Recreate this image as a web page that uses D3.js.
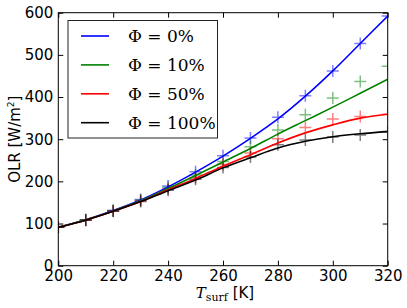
<!DOCTYPE html>
<html>
<head>
<meta charset="utf-8">
<script src="https://cdn.jsdelivr.net/npm/d3@7"></script>
<style>
  body { margin: 0; background: #fff; }
  svg { display: block; }
  .axis text { font-family: "DejaVu Sans", sans-serif; font-size: 15px; fill: #000; }
  .axis path { stroke: none; }
  .axis line { stroke: #000; stroke-width: 1; }
</style>
</head>
<body>
<div id="chart"></div>
<script>
var chart_width  = 407;
var chart_height = 308;
var margin = {left: 58.3, right: 19.3, top: 12.7, bottom: 42.3};

// surface temperature grid [K]
var tsurf = [200, 210, 220, 230, 240, 250, 260, 270, 280, 290, 300, 310, 320];

// fitted curves (lines)
var fit0   = [91, 109, 131, 156, 187, 222, 260, 302, 348, 402, 462, 527, 592];
var fit10  = [91, 109, 130, 154, 183, 214, 246, 278, 312, 344, 376, 409, 442];
var fit50  = [91, 108, 129, 152, 180, 207, 236, 263, 291, 315, 334, 350, 359];
var fit100 = [91, 108, 129, 152, 178, 203, 232, 256, 279, 295, 306, 313, 318];

// model points (markers)
var pts0   = [91, 109, 131, 157, 189, 223, 261, 303, 352, 403, 462, 527, 592];
var pts10  = [91, 109, 131, 156, 186, 215, 247, 282, 322, 358, 398, 437, 473];
var pts50  = [91, 108, 130, 154, 182, 209, 240, 267, 301, 328, 348, 354, 359];
var pts100 = [91, 108, 129, 152, 179, 205, 233, 258, 287, 298, 305, 310, 318];

var labels = ["0%", "10%", "50%", "100%"];
var colors = ["#0000ff", "#008000", "#ff0000", "#000000"];

var xTicks = [200, 220, 240, 260, 280, 300, 320];
var yTicks = [0, 100, 200, 300, 400, 500, 600];

var series = [
  {label: labels[0], color: colors[0], fit: fit0,   pts: pts0},
  {label: labels[1], color: colors[1], fit: fit10,  pts: pts10},
  {label: labels[2], color: colors[2], fit: fit50,  pts: pts50},
  {label: labels[3], color: colors[3], fit: fit100, pts: pts100}
];

var x = d3.scaleLinear().domain([200, 320]).range([margin.left, chart_width - margin.right]);
var y = d3.scaleLinear().domain([0, 600]).range([chart_height - margin.bottom, margin.top]);

var svg = d3.select("#chart").append("svg")
  .attr("width", chart_width)
  .attr("height", chart_height);

svg.append("defs").append("clipPath").attr("id", "clip")
  .append("rect")
  .attr("x", x(200)).attr("y", y(600))
  .attr("width", x(320) - x(200)).attr("height", y(0) - y(600));

var plot = svg.append("g").attr("clip-path", "url(#clip)");

var line = d3.line()
  .x(function(d){ return x(d[0]); })
  .y(function(d){ return y(d[1]); })
  .curve(d3.curveMonotoneX);

// markers first, lines on top
series.forEach(function(s){
  var pts = tsurf.map(function(t, i){ return [t, s.pts[i]]; });
  plot.append("g").selectAll("path")
    .data(pts)
    .enter().append("path")
    .attr("d", function(d){
      var cx = x(d[0]), cy = y(d[1]), r = 6;
      return "M" + (cx - r) + "," + cy + "H" + (cx + r) + "M" + cx + "," + (cy - r) + "V" + (cy + r);
    })
    .attr("stroke", s.color)
    .attr("stroke-opacity", 0.5)
    .attr("stroke-width", 1.5)
    .attr("fill", "none");
});

series.forEach(function(s){
  plot.append("path")
    .datum(tsurf.map(function(t, i){ return [t, s.fit[i]]; }))
    .attr("d", line)
    .attr("fill", "none")
    .attr("stroke", s.color)
    .attr("stroke-width", 1.6);
});

// axes with inward ticks
svg.append("g").attr("class", "axis")
  .attr("transform", "translate(0," + y(0) + ")")
  .call(d3.axisBottom(x).tickValues(xTicks).tickSize(-5).tickPadding(5).tickFormat(d3.format("d")));
svg.append("g").attr("class", "axis")
  .attr("transform", "translate(0," + y(600) + ")")
  .call(d3.axisTop(x).tickValues(xTicks).tickSize(-5).tickFormat(""));
svg.append("g").attr("class", "axis")
  .attr("transform", "translate(" + x(200) + ",0)")
  .call(d3.axisLeft(y).tickValues(yTicks).tickSize(-5).tickPadding(5).tickFormat(d3.format("d")));
svg.append("g").attr("class", "axis")
  .attr("transform", "translate(" + x(320) + ",0)")
  .call(d3.axisRight(y).tickValues(yTicks).tickSize(-5).tickFormat(""));

// frame
svg.append("rect")
  .attr("x", x(200)).attr("y", y(600))
  .attr("width", x(320) - x(200)).attr("height", y(0) - y(600))
  .attr("fill", "none").attr("stroke", "#000").attr("stroke-width", 1);

// axis labels
svg.append("text")
  .attr("transform", "translate(20," + ((y(0) + y(600)) / 2) + ") rotate(-90)")
  .attr("text-anchor", "middle")
  .style("font-family", "DejaVu Sans, sans-serif")
  .style("font-size", "15px")
  .html('OLR [W/m<tspan dy="-6" font-size="9">2</tspan><tspan dy="6">]</tspan>');

var xl = svg.append("text")
  .attr("x", (x(200) + x(320)) / 2 + 2)
  .attr("y", 298)
  .attr("text-anchor", "middle")
  .style("font-size", "15px");
xl.append("tspan").style("font-family", "DejaVu Serif, serif").style("font-style", "italic").text("T");
xl.append("tspan").attr("dy", 3).style("font-family", "DejaVu Serif, serif").style("font-size", "11px").text("surf");
xl.append("tspan").attr("dy", -3).style("font-family", "DejaVu Sans, sans-serif").text(" [K]");

// legend
var legend = svg.append("g");
legend.append("rect")
  .attr("x", 68).attr("y", 20.5)
  .attr("width", 149.5).attr("height", 117.5)
  .attr("fill", "#fff").attr("stroke", "#222").attr("stroke-width", 1);

var rowY = d3.scalePoint().domain(labels).range([36, 122.7]);
series.forEach(function(s){
  var yy = rowY(s.label);
  legend.append("line")
    .attr("x1", 81).attr("x2", 109).attr("y1", yy).attr("y2", yy)
    .attr("stroke", s.color).attr("stroke-width", 1.6);
  legend.append("text")
    .attr("x", 128).attr("y", yy + 6)
    .style("font-family", "DejaVu Serif, serif")
    .style("font-size", "17px")
    .text("\u03A6 = " + s.label);
});
</script>
</body>
</html>
